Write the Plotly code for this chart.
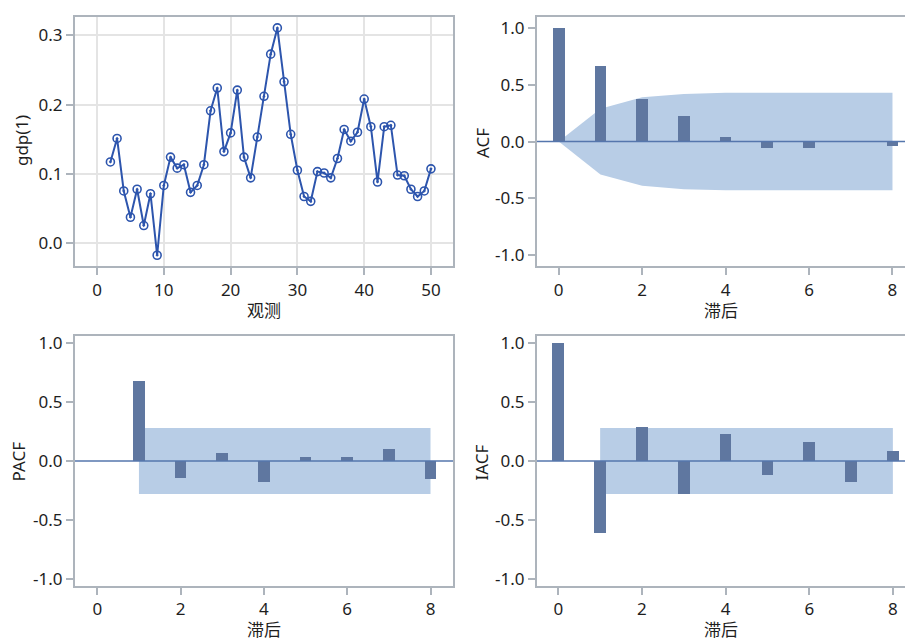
import plotly.graph_objects as go

# ---- data ----
obs = list(range(2, 51))
gdp1 = [0.117, 0.151, 0.075, 0.037, 0.0775, 0.025, 0.071, -0.018, 0.083, 0.124,
        0.108, 0.113, 0.073, 0.083, 0.113, 0.191, 0.224, 0.132, 0.159, 0.221,
        0.124, 0.094, 0.153, 0.212, 0.273, 0.311, 0.233, 0.157, 0.105, 0.067,
        0.060, 0.103, 0.101, 0.094, 0.122, 0.164, 0.147, 0.160, 0.208, 0.168,
        0.088, 0.168, 0.170, 0.098, 0.097, 0.0775, 0.067, 0.075, 0.107]

lags = list(range(0, 9))
acf = [1.0, 0.672, 0.377, 0.223, 0.043, -0.055, -0.055, 0.0, -0.04]
acf_band = [0.0, 0.29, 0.39, 0.42, 0.43, 0.43, 0.43, 0.43, 0.43]

pacf_lags = list(range(1, 9))
pacf = [0.678, -0.145, 0.064, -0.181, 0.028, 0.028, 0.10, -0.156]

iacf = [1.0, -0.614, 0.285, -0.279, 0.223, -0.117, 0.162, -0.179, 0.086]

band_lags = list(range(1, 9))
white_noise_band = [0.28] * len(band_lags)

obs_ticks = [0, 10, 20, 30, 40, 50]
gdp_ticks = [0.0, 0.1, 0.2, 0.3]
lag_ticks = [0, 2, 4, 6, 8]
corr_ticks = [-1.0, -0.5, 0.0, 0.5, 1.0]
corr_labels = ["-1.0", "-0.5", "0.0", "0.5", "1.0"]

# ---- style ----
FONT = "Noto Sans, Noto Sans CJK SC, sans-serif"
TXT = "#1e1e1e"
FRAME = "#adb4bc"
LINE_BLUE = "#2d55ad"
BAR = "#5f77a0"
BAND = "#b8cde6"
ZERO = "#5576ad"
BAR_W = 0.28
FS = 17

fig = go.Figure()


def band_shape(x, upper, xa, ya):
    """Confidence band drawn beneath the bars as a closed polygon."""
    lower = [-u for u in upper]
    xs = list(x) + list(x)[::-1]
    ys = list(upper) + lower[::-1]
    path = "M " + " L ".join(f"{a},{b}" for a, b in zip(xs, ys)) + " Z"
    fig.add_shape(type="path", path=path, xref=xa, yref=ya,
                  fillcolor=BAND, line=dict(width=0), layer="below")


def bar_trace(x, y, xa, ya):
    return go.Bar(x=x, y=y, width=BAR_W, marker=dict(color=BAR, line=dict(width=0)),
                  xaxis=xa, yaxis=ya, showlegend=False)


# series plot
fig.add_trace(go.Scatter(
    x=obs, y=gdp1, mode="lines+markers",
    line=dict(color=LINE_BLUE, width=2),
    marker=dict(symbol="circle-open-dot", size=8, color=LINE_BLUE, line=dict(width=1.6)),
    xaxis="x", yaxis="y", showlegend=False,
))

# ACF
band_shape(lags, acf_band, "x2", "y2")
fig.add_trace(bar_trace(lags, acf, "x2", "y2"))

# PACF
band_shape(band_lags, white_noise_band, "x3", "y3")
fig.add_trace(bar_trace(pacf_lags, pacf, "x3", "y3"))

# IACF
band_shape(band_lags, white_noise_band, "x4", "y4")
fig.add_trace(bar_trace(lags, iacf, "x4", "y4"))

W, H = 905, 643


def px_x(p):
    return p / W


def px_y(p):
    return 1 - p / H


axis_common = dict(
    showline=True, linecolor=FRAME, linewidth=2,
    ticks="outside", ticklen=7, tickwidth=1.5, tickcolor=FRAME,
    tickfont=dict(family=FONT, size=FS, color=TXT),
    zeroline=False, fixedrange=True,
)

corr_y = dict(tickvals=corr_ticks, ticktext=corr_labels, showgrid=False)

fig.update_layout(
    width=W, height=H,
    margin=dict(l=0, r=0, t=0, b=0),
    paper_bgcolor="white", plot_bgcolor="white",
    bargap=0,
    font=dict(family=FONT, color=TXT),
    xaxis=dict(**axis_common, domain=[px_x(75), px_x(453)], anchor="y",
               range=[-3.3, 53.3], tickvals=obs_ticks, mirror=True,
               showgrid=True, gridcolor="#e4e4e4", gridwidth=1.5),
    yaxis=dict(**axis_common, domain=[px_y(265), px_y(12)], anchor="x",
               range=[-0.034, 0.327], tickvals=gdp_ticks,
               tickformat=".1f", mirror=True,
               showgrid=True, gridcolor="#e4e4e4", gridwidth=1.5),
    xaxis2=dict(**axis_common, domain=[px_x(537), 1.0], anchor="y2",
                range=[-0.52, 8.3], tickvals=lag_ticks, mirror=True, showgrid=False),
    yaxis2=dict(**axis_common, **corr_y, domain=[px_y(265), px_y(12)], anchor="x2",
                range=[-1.10, 1.10], mirror=False),
    xaxis3=dict(**axis_common, domain=[px_x(75), px_x(453)], anchor="y3",
                range=[-0.535, 8.54], tickvals=lag_ticks, mirror=True, showgrid=False),
    yaxis3=dict(**axis_common, **corr_y, domain=[px_y(589), px_y(336)], anchor="x3",
                range=[-1.06, 1.06], mirror=True),
    xaxis4=dict(**axis_common, domain=[px_x(537), 1.0], anchor="y4",
                range=[-0.51, 8.29], tickvals=lag_ticks, mirror=True, showgrid=False),
    yaxis4=dict(**axis_common, **corr_y, domain=[px_y(589), px_y(336)], anchor="x4",
                range=[-1.06, 1.06], mirror=False),
)

# zero reference lines on the correlation panels
for xa, ya in [("x2", "y2"), ("x3", "y3"), ("x4", "y4")]:
    fig.add_shape(type="line", xref=f"{xa} domain", yref=ya, x0=0, x1=1, y0=0, y1=0,
                  line=dict(color=ZERO, width=1.5), layer="above")

# axis titles
title_font = dict(family=FONT, size=FS, color=TXT)
titles = [
    ("观测", 264, 310, 0),
    ("gdp(1)", 21, 138, -90),
    ("滞后", 721, 310, 0),
    ("ACF", 482, 140, -90),
    ("滞后", 264, 633, 0),
    ("PACF", 19, 463, -90),
    ("滞后", 721, 633, 0),
    ("IACF", 482, 464, -90),
]
for text, x, y, ang in titles:
    fig.add_annotation(text=text, x=px_x(x), y=px_y(y), xref="paper", yref="paper",
                       showarrow=False, textangle=ang, font=title_font,
                       xanchor="center", yanchor="middle")

fig.write_html("out.html")
